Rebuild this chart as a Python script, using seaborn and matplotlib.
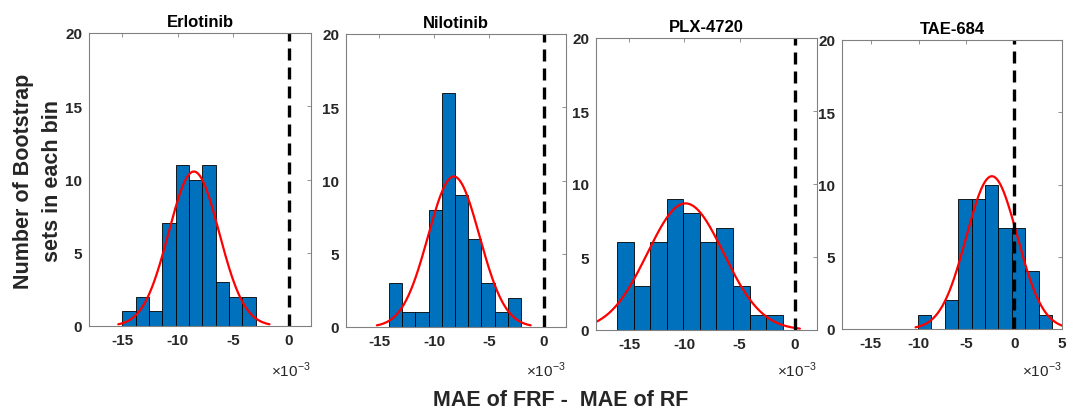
import numpy as np
import seaborn as sns
import matplotlib.pyplot as plt

# data (x values in units of 1e-3)
drugs = ['Erlotinib', 'Nilotinib', 'PLX-4720', 'TAE-684']

edges_erlotinib = [-15.0, -13.8, -12.6, -11.4, -10.2, -9.0, -7.8, -6.6, -5.4, -4.2, -3.0]
counts_erlotinib = [1, 2, 1, 7, 11, 10, 11, 3, 2, 2]

edges_nilotinib = [-14.1, -12.9, -11.7, -10.5, -9.3, -8.1, -6.9, -5.7, -4.5, -3.3, -2.1]
counts_nilotinib = [3, 1, 1, 8, 16, 9, 6, 3, 1, 2]

edges_plx = [-16.1, -14.6, -13.1, -11.6, -10.1, -8.6, -7.1, -5.6, -4.1, -2.6, -1.1]
counts_plx = [6, 3, 6, 9, 8, 6, 7, 3, 1, 1]

edges_tae = [-10.1, -8.69, -7.28, -5.87, -4.46, -3.05, -1.64, -0.23, 1.18, 2.59, 4.0]
counts_tae = [1, 0, 2, 9, 9, 10, 7, 7, 4, 1]

# fitted normal (mean, std)
fit_mu = [-8.55, -8.2, -9.9, -2.33]
fit_sigma = [2.27, 2.33, 3.45, 2.66]

x_ticks = [[-15, -10, -5, 0], [-15, -10, -5, 0], [-15, -10, -5, 0], [-15, -10, -5, 0, 5]]
x_max = [2, 2, 2, 5]
y_ticks = [0, 5, 10, 15, 20]

all_edges = [edges_erlotinib, edges_nilotinib, edges_plx, edges_tae]
all_counts = [counts_erlotinib, counts_nilotinib, counts_plx, counts_tae]

sns.set_style('white')
plt.rcParams['font.family'] = ['Liberation Sans', 'DejaVu Sans']
plt.rcParams['axes.unicode_minus'] = False
plt.rcParams['mathtext.fontset'] = 'custom'
plt.rcParams['mathtext.rm'] = 'Liberation Sans'

W, H = 1067, 414
fig = plt.figure(figsize=(W / 100, H / 100), dpi=100)

# axes boxes in pixels: left, right, top, bottom
boxes = [(89, 311, 34, 327), (346, 566, 35, 328), (596, 817, 39, 331), (842, 1062, 41, 330)]
spine_col = '#808080'
text_col = '#262626'

for i, name in enumerate(drugs):
    l, r, t, b = boxes[i]
    ax = fig.add_axes([l / W, 1 - b / H, (r - l) / W, (b - t) / H])
    edges = all_edges[i]
    counts = all_counts[i]
    centers = [(edges[k] + edges[k + 1]) / 2 for k in range(len(counts))]
    sns.histplot(x=centers, weights=counts, bins=edges, ax=ax, color='#0072BD',
                 edgecolor='black', linewidth=0.6, alpha=1)

    mu, sd = fit_mu[i], fit_sigma[i]
    bw = edges[1] - edges[0]
    xs = np.linspace(mu - 3 * sd, mu + 3 * sd, 200)
    ys = sum(counts) * bw / (sd * np.sqrt(2 * np.pi)) * np.exp(-0.5 * ((xs - mu) / sd) ** 2)
    sns.lineplot(x=xs, y=ys, ax=ax, color='red', linewidth=1.6)

    ax.axvline(0, color='black', linewidth=2.4, dashes=(3.6, 2.1))

    ax.set_xlim(-18, x_max[i])
    ax.set_ylim(0, 20)
    ax.set_xticks(x_ticks[i])
    ax.set_xticklabels([str(v) for v in x_ticks[i]])
    ax.set_yticks(y_ticks)
    ax.set_xlabel('')
    ax.set_ylabel('')
    ax.tick_params(direction='in', top=True, right=True, length=3, width=0.6,
                   color=spine_col, labelcolor=text_col, labelsize=11, pad=5)
    for lab in ax.get_xticklabels() + ax.get_yticklabels():
        lab.set_fontweight('bold')
    for s in ax.spines.values():
        s.set_color(spine_col)
        s.set_linewidth(0.8)
        s.set_visible(True)
    ax.set_title(name, fontsize=12, fontweight='bold', color='black', pad=5)

    fig.text(r / W, 1 - 370 / H, r'$\times10^{-3}$', ha='right', va='center',
             fontsize=11, color=text_col)

fig.text(38 / W, 1 - 181 / H, 'Number of Bootstrap\nsets in each bin', rotation=90,
         ha='center', va='center', multialignment='center', fontsize=15.5,
         fontweight='bold', color=text_col, linespacing=1.5)
fig.text(561 / W, 1 - 401 / H, 'MAE of FRF -  MAE of RF', ha='center', va='center',
         fontsize=15.5, fontweight='bold', color=text_col)

fig.savefig('out.png', dpi=100)
